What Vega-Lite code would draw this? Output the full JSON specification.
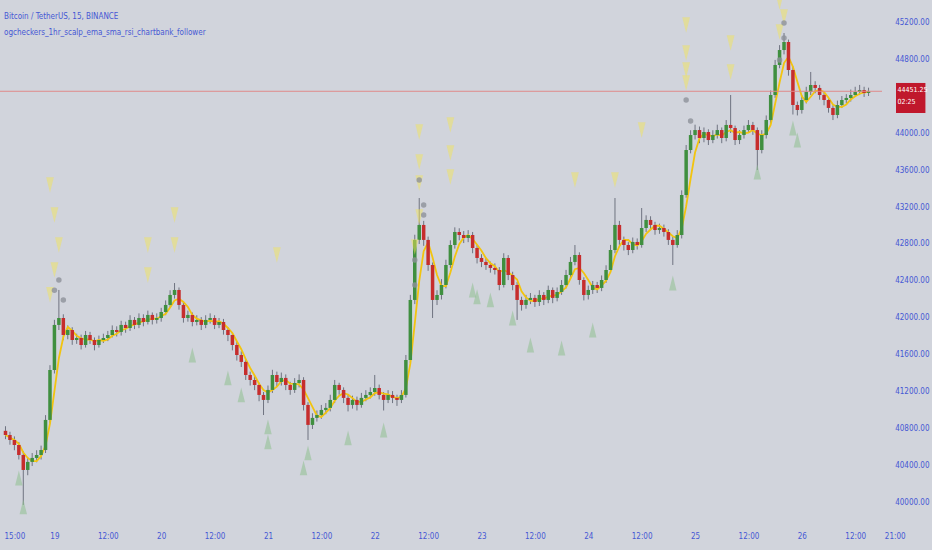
{
"$schema":"https://vega.github.io/schema/vega-lite/v6.json",
"width":882,"height":520,"autosize":{"type":"none"},"padding":{"left":0,"top":0,"right":50,"bottom":30},
"background":"#d1d4dc",
"config":{"view":{"stroke":null},"axis":{"grid":false,"domain":false,"ticks":false,"labelFont":"Liberation Sans Narrow, DejaVu Sans Condensed, Liberation Sans","labelFontSize":8,"labelColor":"#4658d4"}},
"title":{"text":"Bitcoin / TetherUS, 15, BINANCE","subtitle":"ogcheckers_1hr_scalp_ema_sma_rsi_chartbank_follower","anchor":"start","frame":"group","orient":"top","offset":-43,"dx":4,"font":"Liberation Sans Narrow, DejaVu Sans Condensed, Liberation Sans","fontSize":8,"fontWeight":"normal","color":"#4658d4","subtitleFont":"Liberation Sans Narrow, DejaVu Sans Condensed, Liberation Sans","subtitleFontSize":8,"subtitleColor":"#4658d4","subtitlePadding":8},
"datasets":{
"candles":[
{"t":"2023-12-18T13:00","o":40780,"h":40830,"l":40690,"c":40735},
{"t":"2023-12-18T14:00","o":40735,"h":40770,"l":40630,"c":40681},
{"t":"2023-12-18T15:00","o":40681,"h":40720,"l":40570,"c":40627},
{"t":"2023-12-18T16:00","o":40627,"h":40660,"l":40470,"c":40519},
{"t":"2023-12-18T17:00","o":40519,"h":40560,"l":39979,"c":40357},
{"t":"2023-12-18T18:00","o":40357,"h":40490,"l":40300,"c":40444},
{"t":"2023-12-18T19:00","o":40444,"h":40540,"l":40400,"c":40487},
{"t":"2023-12-18T20:00","o":40487,"h":40570,"l":40440,"c":40519},
{"t":"2023-12-18T21:00","o":40519,"h":40620,"l":40470,"c":40573},
{"t":"2023-12-18T22:00","o":40573,"h":40950,"l":40540,"c":40898},
{"t":"2023-12-18T23:00","o":40898,"h":41490,"l":40860,"c":41438},
{"t":"2023-12-19T00:00","o":41438,"h":41980,"l":41400,"c":41925},
{"t":"2023-12-19T01:00","o":41925,"h":42303,"l":41870,"c":42000},
{"t":"2023-12-19T02:00","o":42000,"h":42040,"l":41760,"c":41816},
{"t":"2023-12-19T03:00","o":41816,"h":41920,"l":41770,"c":41870},
{"t":"2023-12-19T04:00","o":41870,"h":41900,"l":41710,"c":41762},
{"t":"2023-12-19T05:00","o":41762,"h":41830,"l":41720,"c":41784},
{"t":"2023-12-19T06:00","o":41784,"h":41820,"l":41660,"c":41708},
{"t":"2023-12-19T07:00","o":41708,"h":41860,"l":41680,"c":41816},
{"t":"2023-12-19T08:00","o":41816,"h":41850,"l":41720,"c":41762},
{"t":"2023-12-19T09:00","o":41762,"h":41790,"l":41650,"c":41708},
{"t":"2023-12-19T10:00","o":41708,"h":41810,"l":41680,"c":41762},
{"t":"2023-12-19T11:00","o":41762,"h":41830,"l":41730,"c":41784},
{"t":"2023-12-19T12:00","o":41784,"h":41860,"l":41750,"c":41816},
{"t":"2023-12-19T13:00","o":41816,"h":41920,"l":41790,"c":41870},
{"t":"2023-12-19T14:00","o":41870,"h":41910,"l":41800,"c":41849},
{"t":"2023-12-19T15:00","o":41849,"h":41970,"l":41810,"c":41925},
{"t":"2023-12-19T16:00","o":41925,"h":41960,"l":41840,"c":41892},
{"t":"2023-12-19T17:00","o":41892,"h":42030,"l":41860,"c":41979},
{"t":"2023-12-19T18:00","o":41979,"h":42010,"l":41880,"c":41925},
{"t":"2023-12-19T19:00","o":41925,"h":42050,"l":41890,"c":42000},
{"t":"2023-12-19T20:00","o":42000,"h":42040,"l":41910,"c":41957},
{"t":"2023-12-19T21:00","o":41957,"h":42080,"l":41930,"c":42033},
{"t":"2023-12-19T22:00","o":42033,"h":42060,"l":41930,"c":41979},
{"t":"2023-12-19T23:00","o":41979,"h":42050,"l":41940,"c":42000},
{"t":"2023-12-20T00:00","o":42000,"h":42110,"l":41960,"c":42065},
{"t":"2023-12-20T01:00","o":42065,"h":42190,"l":42030,"c":42141},
{"t":"2023-12-20T02:00","o":42141,"h":42300,"l":42110,"c":42249},
{"t":"2023-12-20T03:00","o":42249,"h":42378,"l":42210,"c":42303},
{"t":"2023-12-20T04:00","o":42303,"h":42330,"l":42090,"c":42141},
{"t":"2023-12-20T05:00","o":42141,"h":42170,"l":41950,"c":42000},
{"t":"2023-12-20T06:00","o":42000,"h":42080,"l":41960,"c":42033},
{"t":"2023-12-20T07:00","o":42033,"h":42060,"l":41910,"c":41957},
{"t":"2023-12-20T08:00","o":41957,"h":42030,"l":41920,"c":41979},
{"t":"2023-12-20T09:00","o":41979,"h":42010,"l":41870,"c":41925},
{"t":"2023-12-20T10:00","o":41925,"h":42030,"l":41890,"c":41979},
{"t":"2023-12-20T11:00","o":41979,"h":42050,"l":41940,"c":42000},
{"t":"2023-12-20T12:00","o":42000,"h":42030,"l":41880,"c":41925},
{"t":"2023-12-20T13:00","o":41925,"h":42000,"l":41890,"c":41957},
{"t":"2023-12-20T14:00","o":41957,"h":41990,"l":41820,"c":41870},
{"t":"2023-12-20T15:00","o":41870,"h":41900,"l":41750,"c":41816},
{"t":"2023-12-20T16:00","o":41816,"h":41840,"l":41650,"c":41708},
{"t":"2023-12-20T17:00","o":41708,"h":41740,"l":41540,"c":41600},
{"t":"2023-12-20T18:00","o":41600,"h":41640,"l":41470,"c":41525},
{"t":"2023-12-20T19:00","o":41525,"h":41560,"l":41330,"c":41384},
{"t":"2023-12-20T20:00","o":41384,"h":41420,"l":41270,"c":41330},
{"t":"2023-12-20T21:00","o":41330,"h":41370,"l":41220,"c":41276},
{"t":"2023-12-20T22:00","o":41276,"h":41300,"l":41100,"c":41168},
{"t":"2023-12-20T23:00","o":41168,"h":41200,"l":40951,"c":41114},
{"t":"2023-12-21T00:00","o":41114,"h":41270,"l":41080,"c":41222},
{"t":"2023-12-21T01:00","o":41222,"h":41440,"l":41190,"c":41384},
{"t":"2023-12-21T02:00","o":41384,"h":41420,"l":41260,"c":41308},
{"t":"2023-12-21T03:00","o":41308,"h":41410,"l":41270,"c":41352},
{"t":"2023-12-21T04:00","o":41352,"h":41390,"l":41220,"c":41276},
{"t":"2023-12-21T05:00","o":41276,"h":41310,"l":41170,"c":41222},
{"t":"2023-12-21T06:00","o":41222,"h":41350,"l":41190,"c":41297},
{"t":"2023-12-21T07:00","o":41297,"h":41390,"l":41250,"c":41330},
{"t":"2023-12-21T08:00","o":41330,"h":41360,"l":41000,"c":41060},
{"t":"2023-12-21T09:00","o":41060,"h":41090,"l":40681,"c":40844},
{"t":"2023-12-21T10:00","o":40844,"h":40970,"l":40800,"c":40920},
{"t":"2023-12-21T11:00","o":40920,"h":41000,"l":40880,"c":40952},
{"t":"2023-12-21T12:00","o":40952,"h":41060,"l":40910,"c":41006},
{"t":"2023-12-21T13:00","o":41006,"h":41080,"l":40960,"c":41028},
{"t":"2023-12-21T14:00","o":41028,"h":41170,"l":40990,"c":41114},
{"t":"2023-12-21T15:00","o":41114,"h":41330,"l":41080,"c":41276},
{"t":"2023-12-21T16:00","o":41276,"h":41300,"l":41170,"c":41222},
{"t":"2023-12-21T17:00","o":41222,"h":41250,"l":41080,"c":41136},
{"t":"2023-12-21T18:00","o":41136,"h":41170,"l":40990,"c":41060},
{"t":"2023-12-21T19:00","o":41060,"h":41160,"l":41020,"c":41114},
{"t":"2023-12-21T20:00","o":41114,"h":41150,"l":41000,"c":41060},
{"t":"2023-12-21T21:00","o":41060,"h":41190,"l":41030,"c":41136},
{"t":"2023-12-21T22:00","o":41136,"h":41220,"l":41100,"c":41168},
{"t":"2023-12-21T23:00","o":41168,"h":41250,"l":41130,"c":41200},
{"t":"2023-12-22T00:00","o":41200,"h":41384,"l":41160,"c":41243},
{"t":"2023-12-22T01:00","o":41243,"h":41280,"l":41120,"c":41168},
{"t":"2023-12-22T02:00","o":41168,"h":41200,"l":41000,"c":41114},
{"t":"2023-12-22T03:00","o":41114,"h":41220,"l":41080,"c":41168},
{"t":"2023-12-22T04:00","o":41168,"h":41210,"l":41080,"c":41136},
{"t":"2023-12-22T05:00","o":41136,"h":41170,"l":41050,"c":41114},
{"t":"2023-12-22T06:00","o":41114,"h":41220,"l":41080,"c":41168},
{"t":"2023-12-22T07:00","o":41168,"h":41600,"l":41140,"c":41546},
{"t":"2023-12-22T08:00","o":41546,"h":42250,"l":41510,"c":42195},
{"t":"2023-12-22T09:00","o":42195,"h":42900,"l":42150,"c":42844},
{"t":"2023-12-22T10:00","o":42844,"h":43297,"l":42800,"c":43006},
{"t":"2023-12-22T11:00","o":43006,"h":43050,"l":42780,"c":42844},
{"t":"2023-12-22T12:00","o":42844,"h":42880,"l":42510,"c":42573},
{"t":"2023-12-22T13:00","o":42573,"h":42600,"l":42000,"c":42195},
{"t":"2023-12-22T14:00","o":42195,"h":42300,"l":42140,"c":42249},
{"t":"2023-12-22T15:00","o":42249,"h":42420,"l":42200,"c":42357},
{"t":"2023-12-22T16:00","o":42357,"h":42630,"l":42320,"c":42573},
{"t":"2023-12-22T17:00","o":42573,"h":42840,"l":42540,"c":42789},
{"t":"2023-12-22T18:00","o":42789,"h":42980,"l":42750,"c":42930},
{"t":"2023-12-22T19:00","o":42930,"h":42970,"l":42840,"c":42897},
{"t":"2023-12-22T20:00","o":42897,"h":42940,"l":42810,"c":42865},
{"t":"2023-12-22T21:00","o":42865,"h":42950,"l":42820,"c":42897},
{"t":"2023-12-22T22:00","o":42897,"h":42930,"l":42700,"c":42757},
{"t":"2023-12-22T23:00","o":42757,"h":42790,"l":42590,"c":42649},
{"t":"2023-12-23T00:00","o":42649,"h":42690,"l":42550,"c":42606},
{"t":"2023-12-23T01:00","o":42606,"h":42650,"l":42520,"c":42573},
{"t":"2023-12-23T02:00","o":42573,"h":42610,"l":42490,"c":42541},
{"t":"2023-12-23T03:00","o":42541,"h":42590,"l":42470,"c":42519},
{"t":"2023-12-23T04:00","o":42519,"h":42550,"l":42300,"c":42357},
{"t":"2023-12-23T05:00","o":42357,"h":42700,"l":42330,"c":42649},
{"t":"2023-12-23T06:00","o":42649,"h":42680,"l":42410,"c":42465},
{"t":"2023-12-23T07:00","o":42465,"h":42500,"l":42300,"c":42357},
{"t":"2023-12-23T08:00","o":42357,"h":42390,"l":41979,"c":42195},
{"t":"2023-12-23T09:00","o":42195,"h":42230,"l":42080,"c":42141},
{"t":"2023-12-23T10:00","o":42141,"h":42250,"l":42100,"c":42195},
{"t":"2023-12-23T11:00","o":42195,"h":42270,"l":42150,"c":42217},
{"t":"2023-12-23T12:00","o":42217,"h":42250,"l":42120,"c":42173},
{"t":"2023-12-23T13:00","o":42173,"h":42300,"l":42130,"c":42249},
{"t":"2023-12-23T14:00","o":42249,"h":42280,"l":42140,"c":42195},
{"t":"2023-12-23T15:00","o":42195,"h":42350,"l":42160,"c":42303},
{"t":"2023-12-23T16:00","o":42303,"h":42330,"l":42160,"c":42217},
{"t":"2023-12-23T17:00","o":42217,"h":42330,"l":42180,"c":42281},
{"t":"2023-12-23T18:00","o":42281,"h":42410,"l":42250,"c":42357},
{"t":"2023-12-23T19:00","o":42357,"h":42520,"l":42320,"c":42465},
{"t":"2023-12-23T20:00","o":42465,"h":42660,"l":42430,"c":42606},
{"t":"2023-12-23T21:00","o":42606,"h":42789,"l":42570,"c":42681},
{"t":"2023-12-23T22:00","o":42681,"h":42710,"l":42360,"c":42411},
{"t":"2023-12-23T23:00","o":42411,"h":42440,"l":42190,"c":42249},
{"t":"2023-12-24T00:00","o":42249,"h":42350,"l":42200,"c":42303},
{"t":"2023-12-24T01:00","o":42303,"h":42400,"l":42260,"c":42357},
{"t":"2023-12-24T02:00","o":42357,"h":42390,"l":42270,"c":42325},
{"t":"2023-12-24T03:00","o":42325,"h":42460,"l":42290,"c":42411},
{"t":"2023-12-24T04:00","o":42411,"h":42570,"l":42380,"c":42519},
{"t":"2023-12-24T05:00","o":42519,"h":42790,"l":42490,"c":42735},
{"t":"2023-12-24T06:00","o":42735,"h":43297,"l":42700,"c":43006},
{"t":"2023-12-24T07:00","o":43006,"h":43050,"l":42790,"c":42844},
{"t":"2023-12-24T08:00","o":42844,"h":42880,"l":42730,"c":42789},
{"t":"2023-12-24T09:00","o":42789,"h":42820,"l":42680,"c":42735},
{"t":"2023-12-24T10:00","o":42735,"h":42870,"l":42700,"c":42822},
{"t":"2023-12-24T11:00","o":42822,"h":42860,"l":42740,"c":42789},
{"t":"2023-12-24T12:00","o":42789,"h":43189,"l":42760,"c":42973},
{"t":"2023-12-24T13:00","o":42973,"h":43110,"l":42930,"c":43060},
{"t":"2023-12-24T14:00","o":43060,"h":43100,"l":42950,"c":43006},
{"t":"2023-12-24T15:00","o":43006,"h":43040,"l":42900,"c":42951},
{"t":"2023-12-24T16:00","o":42951,"h":43020,"l":42910,"c":42973},
{"t":"2023-12-24T17:00","o":42973,"h":43010,"l":42880,"c":42930},
{"t":"2023-12-24T18:00","o":42930,"h":42960,"l":42790,"c":42844},
{"t":"2023-12-24T19:00","o":42844,"h":42880,"l":42573,"c":42789},
{"t":"2023-12-24T20:00","o":42789,"h":42950,"l":42760,"c":42897},
{"t":"2023-12-24T21:00","o":42897,"h":43380,"l":42860,"c":43330},
{"t":"2023-12-24T22:00","o":43330,"h":43870,"l":43300,"c":43816},
{"t":"2023-12-24T23:00","o":43816,"h":44030,"l":43780,"c":43978},
{"t":"2023-12-25T00:00","o":43978,"h":44090,"l":43930,"c":44032},
{"t":"2023-12-25T01:00","o":44032,"h":44070,"l":43890,"c":43946},
{"t":"2023-12-25T02:00","o":43946,"h":44060,"l":43900,"c":44011},
{"t":"2023-12-25T03:00","o":44011,"h":44040,"l":43870,"c":43924},
{"t":"2023-12-25T04:00","o":43924,"h":44030,"l":43890,"c":43978},
{"t":"2023-12-25T05:00","o":43978,"h":44090,"l":43940,"c":44032},
{"t":"2023-12-25T06:00","o":44032,"h":44060,"l":43890,"c":43946},
{"t":"2023-12-25T07:00","o":43946,"h":44140,"l":43910,"c":44087},
{"t":"2023-12-25T08:00","o":44087,"h":44411,"l":44000,"c":44054},
{"t":"2023-12-25T09:00","o":44054,"h":44080,"l":43870,"c":43924},
{"t":"2023-12-25T10:00","o":43924,"h":44030,"l":43880,"c":43978},
{"t":"2023-12-25T11:00","o":43978,"h":44080,"l":43940,"c":44032},
{"t":"2023-12-25T12:00","o":44032,"h":44140,"l":44000,"c":44087},
{"t":"2023-12-25T13:00","o":44087,"h":44120,"l":43980,"c":44032},
{"t":"2023-12-25T14:00","o":44032,"h":44060,"l":43600,"c":43816},
{"t":"2023-12-25T15:00","o":43816,"h":44030,"l":43780,"c":43978},
{"t":"2023-12-25T16:00","o":43978,"h":44190,"l":43940,"c":44141},
{"t":"2023-12-25T17:00","o":44141,"h":44460,"l":44100,"c":44411},
{"t":"2023-12-25T18:00","o":44411,"h":44790,"l":44380,"c":44735},
{"t":"2023-12-25T19:00","o":44735,"h":44950,"l":44700,"c":44897},
{"t":"2023-12-25T20:00","o":44897,"h":45081,"l":44850,"c":44984},
{"t":"2023-12-25T21:00","o":44984,"h":45010,"l":44620,"c":44681},
{"t":"2023-12-25T22:00","o":44681,"h":44720,"l":44200,"c":44303},
{"t":"2023-12-25T23:00","o":44303,"h":44340,"l":44190,"c":44249},
{"t":"2023-12-26T00:00","o":44249,"h":44410,"l":44210,"c":44357},
{"t":"2023-12-26T01:00","o":44357,"h":44500,"l":44320,"c":44443},
{"t":"2023-12-26T02:00","o":44443,"h":44660,"l":44410,"c":44519},
{"t":"2023-12-26T03:00","o":44519,"h":44560,"l":44430,"c":44487},
{"t":"2023-12-26T04:00","o":44487,"h":44520,"l":44360,"c":44411},
{"t":"2023-12-26T05:00","o":44411,"h":44440,"l":44300,"c":44357},
{"t":"2023-12-26T06:00","o":44357,"h":44390,"l":44220,"c":44271},
{"t":"2023-12-26T07:00","o":44271,"h":44300,"l":44140,"c":44195},
{"t":"2023-12-26T08:00","o":44195,"h":44350,"l":44160,"c":44303},
{"t":"2023-12-26T09:00","o":44303,"h":44400,"l":44270,"c":44357},
{"t":"2023-12-26T10:00","o":44357,"h":44420,"l":44320,"c":44379},
{"t":"2023-12-26T11:00","o":44379,"h":44470,"l":44340,"c":44411},
{"t":"2023-12-26T12:00","o":44411,"h":44500,"l":44390,"c":44443},
{"t":"2023-12-26T13:00","o":44443,"h":44520,"l":44410,"c":44465},
{"t":"2023-12-26T14:00","o":44465,"h":44500,"l":44390,"c":44433},
{"t":"2023-12-26T15:00","o":44433,"h":44490,"l":44400,"c":44451}
],
"signals":[
{"t":"2023-12-18T23:00","p":43438,"k":"sell"},
{"t":"2023-12-19T00:00","p":43114,"k":"sell"},
{"t":"2023-12-19T01:00","p":42790,"k":"sell"},
{"t":"2023-12-19T00:00","p":42519,"k":"sell"},
{"t":"2023-12-18T23:00","p":42250,"k":"sell"},
{"t":"2023-12-19T21:00","p":42789,"k":"sell"},
{"t":"2023-12-19T21:00","p":42465,"k":"sell"},
{"t":"2023-12-20T03:00","p":43114,"k":"sell"},
{"t":"2023-12-20T03:00","p":42789,"k":"sell"},
{"t":"2023-12-21T02:00","p":42680,"k":"sell"},
{"t":"2023-12-22T10:00","p":44011,"k":"sell"},
{"t":"2023-12-22T10:00","p":43687,"k":"sell"},
{"t":"2023-12-22T10:00","p":43460,"k":"sell"},
{"t":"2023-12-22T10:00","p":43092,"k":"sell"},
{"t":"2023-12-22T09:00","p":42768,"k":"sell"},
{"t":"2023-12-22T17:00","p":44087,"k":"sell"},
{"t":"2023-12-22T17:00","p":43784,"k":"sell"},
{"t":"2023-12-22T17:00","p":43525,"k":"sell"},
{"t":"2023-12-23T21:00","p":43492,"k":"sell"},
{"t":"2023-12-24T06:00","p":43492,"k":"sell"},
{"t":"2023-12-24T12:00","p":44032,"k":"sell"},
{"t":"2023-12-24T22:00","p":45168,"k":"sell"},
{"t":"2023-12-24T22:00","p":44865,"k":"sell"},
{"t":"2023-12-24T22:00","p":44681,"k":"sell"},
{"t":"2023-12-24T22:00","p":44541,"k":"sell"},
{"t":"2023-12-25T08:00","p":44973,"k":"sell"},
{"t":"2023-12-25T08:00","p":44660,"k":"sell"},
{"t":"2023-12-25T19:00","p":45416,"k":"sell"},
{"t":"2023-12-25T20:00","p":45254,"k":"sell"},
{"t":"2023-12-25T19:00","p":45092,"k":"sell"},
{"t":"2023-12-19T01:00","p":42410,"k":"dot"},
{"t":"2023-12-19T02:00","p":42195,"k":"dot"},
{"t":"2023-12-19T00:00","p":42300,"k":"dot"},
{"t":"2023-12-22T09:00","p":42357,"k":"dot"},
{"t":"2023-12-22T09:00","p":42627,"k":"dot"},
{"t":"2023-12-22T10:00","p":43492,"k":"dot"},
{"t":"2023-12-22T11:00","p":43222,"k":"dot"},
{"t":"2023-12-22T11:00","p":43114,"k":"dot"},
{"t":"2023-12-24T22:00","p":44357,"k":"dot"},
{"t":"2023-12-24T23:00","p":44130,"k":"dot"},
{"t":"2023-12-25T19:00","p":44789,"k":"dot"},
{"t":"2023-12-25T20:00","p":45027,"k":"dot"},
{"t":"2023-12-25T20:00","p":45189,"k":"dot"},
{"t":"2023-12-18T16:00","p":40270,"k":"buy"},
{"t":"2023-12-18T17:00","p":39957,"k":"buy"},
{"t":"2023-12-20T07:00","p":41600,"k":"buy"},
{"t":"2023-12-20T15:00","p":41352,"k":"buy"},
{"t":"2023-12-20T18:00","p":41168,"k":"buy"},
{"t":"2023-12-21T00:00","p":40822,"k":"buy"},
{"t":"2023-12-21T00:00","p":40660,"k":"buy"},
{"t":"2023-12-21T09:00","p":40541,"k":"buy"},
{"t":"2023-12-21T08:00","p":40379,"k":"buy"},
{"t":"2023-12-21T18:00","p":40703,"k":"buy"},
{"t":"2023-12-22T02:00","p":40789,"k":"buy"},
{"t":"2023-12-22T22:00","p":42303,"k":"buy"},
{"t":"2023-12-22T23:00","p":42230,"k":"buy"},
{"t":"2023-12-23T02:00","p":42195,"k":"buy"},
{"t":"2023-12-23T07:00","p":42000,"k":"buy"},
{"t":"2023-12-23T11:00","p":41708,"k":"buy"},
{"t":"2023-12-23T18:00","p":41676,"k":"buy"},
{"t":"2023-12-24T01:00","p":41870,"k":"buy"},
{"t":"2023-12-24T19:00","p":42378,"k":"buy"},
{"t":"2023-12-25T14:00","p":43578,"k":"buy"},
{"t":"2023-12-25T22:00","p":44054,"k":"buy"},
{"t":"2023-12-25T23:00","p":43924,"k":"buy"}
]
},
"layer":[
{"data":{"name":"candles"},"mark":{"type":"rule","color":"#6f7380","strokeWidth":1},
 "encoding":{
  "x":{"field":"t","type":"temporal","scale":{"domain":[{"year":2023,"month":12,"date":18,"hours":12,"minutes":53,"seconds":20},{"year":2023,"month":12,"date":26,"hours":16,"minutes":54}]},
   "axis":{"title":null,"orient":"bottom","labelPadding":12,"labelOverlap":false,"labelFlush":false,"labelBound":false,
    "values":[{"year":2023,"month":12,"date":18,"hours":15},{"year":2023,"month":12,"date":19},{"year":2023,"month":12,"date":19,"hours":12},{"year":2023,"month":12,"date":20},{"year":2023,"month":12,"date":20,"hours":12},{"year":2023,"month":12,"date":21},{"year":2023,"month":12,"date":21,"hours":12},{"year":2023,"month":12,"date":22},{"year":2023,"month":12,"date":22,"hours":12},{"year":2023,"month":12,"date":23},{"year":2023,"month":12,"date":23,"hours":12},{"year":2023,"month":12,"date":24},{"year":2023,"month":12,"date":24,"hours":12},{"year":2023,"month":12,"date":25},{"year":2023,"month":12,"date":25,"hours":12},{"year":2023,"month":12,"date":26},{"year":2023,"month":12,"date":26,"hours":12}],
    "labelExpr":"hours(datum.value)==0 ? timeFormat(datum.value,'%-d') : timeFormat(datum.value,'%H:%M')"}},
  "y":{"field":"l","type":"quantitative","scale":{"domain":[39816,45438],"zero":false,"nice":false},
   "axis":{"title":null,"orient":"right","labelAlign":"right","labelPadding":47,"labelBaseline":"middle","format":".2f","values":[40000,40400,40800,41200,41600,42000,42400,42800,43200,43600,44000,44800,45200]}},
  "y2":{"field":"h"}}},
{"data":{"name":"candles"},"transform":[{"window":[{"op":"mean","field":"c","as":"ema"}],"frame":[-3,0],"sort":[{"field":"t"}]}],
 "mark":{"type":"line","color":"#f2c40f","strokeWidth":1.8},
 "encoding":{"x":{"field":"t","type":"temporal"},"y":{"field":"ema","type":"quantitative"}}},
{"data":{"name":"candles"},"mark":{"type":"bar","size":3.5},
 "encoding":{"x":{"field":"t","type":"temporal"},"y":{"field":"o","type":"quantitative"},"y2":{"field":"c"},
  "color":{"condition":{"test":"datum.c >= datum.o","value":"#3f8f3f"},"value":"#c62d2d"}}},
{"data":{"name":"signals"},"transform":[{"filter":"datum.k=='sell'"}],
 "mark":{"type":"point","filled":true,"shape":"M-0.5,-1L0.5,-1L0,1Z","size":240,"color":"#f2e35c","opacity":0.5},
 "encoding":{"x":{"field":"t","type":"temporal"},"y":{"field":"p","type":"quantitative"}}},
{"data":{"name":"signals"},"transform":[{"filter":"datum.k=='buy'"}],
 "mark":{"type":"point","filled":true,"shape":"M0,-1L0.5,1L-0.5,1Z","size":220,"color":"#8fbf8f","opacity":0.55},
 "encoding":{"x":{"field":"t","type":"temporal"},"y":{"field":"p","type":"quantitative"}}},
{"data":{"name":"signals"},"transform":[{"filter":"datum.k=='dot'"}],
 "mark":{"type":"point","filled":true,"shape":"circle","size":30,"color":"#8d919a","opacity":0.8},
 "encoding":{"x":{"field":"t","type":"temporal"},"y":{"field":"p","type":"quantitative"}}},
{"data":{"values":[{}]},"mark":{"type":"rule","color":"#e08a8a","strokeWidth":1},
 "encoding":{"y":{"datum":44451.25,"type":"quantitative"}}},
{"data":{"values":[{}]},"mark":{"type":"rect","color":"#c0182c"},
 "encoding":{"x":{"datum":{"year":2023,"month":12,"date":26,"hours":21,"minutes":10},"type":"temporal"},"x2":{"datum":{"year":2023,"month":12,"date":27,"hours":3,"minutes":47}},
  "y":{"datum":44541,"type":"quantitative"},"y2":{"datum":44216}}},
{"data":{"values":[{}]},"mark":{"type":"text","color":"#ffffff","align":"left","baseline":"middle","font":"Liberation Sans Narrow, DejaVu Sans Condensed, Liberation Sans","fontSize":7,"dy":-1,"text":"44451.25"},
 "encoding":{"x":{"datum":{"year":2023,"month":12,"date":26,"hours":21,"minutes":30},"type":"temporal"},"y":{"datum":44451.25,"type":"quantitative"}}},
{"data":{"values":[{}]},"mark":{"type":"text","color":"#ffffff","align":"left","baseline":"middle","font":"Liberation Sans Narrow, DejaVu Sans Condensed, Liberation Sans","fontSize":7,"dy":11,"text":"02:25"},
 "encoding":{"x":{"datum":{"year":2023,"month":12,"date":26,"hours":21,"minutes":30},"type":"temporal"},"y":{"datum":44451.25,"type":"quantitative"}}},
{"data":{"values":[{}]},"mark":{"type":"text","color":"#4658d4","align":"center","baseline":"middle","font":"Liberation Sans Narrow, DejaVu Sans Condensed, Liberation Sans","fontSize":8,"text":"21:00"},
 "encoding":{"x":{"datum":{"year":2023,"month":12,"date":26,"hours":21},"type":"temporal"},"y":{"datum":39634,"type":"quantitative"}}}
]
}
